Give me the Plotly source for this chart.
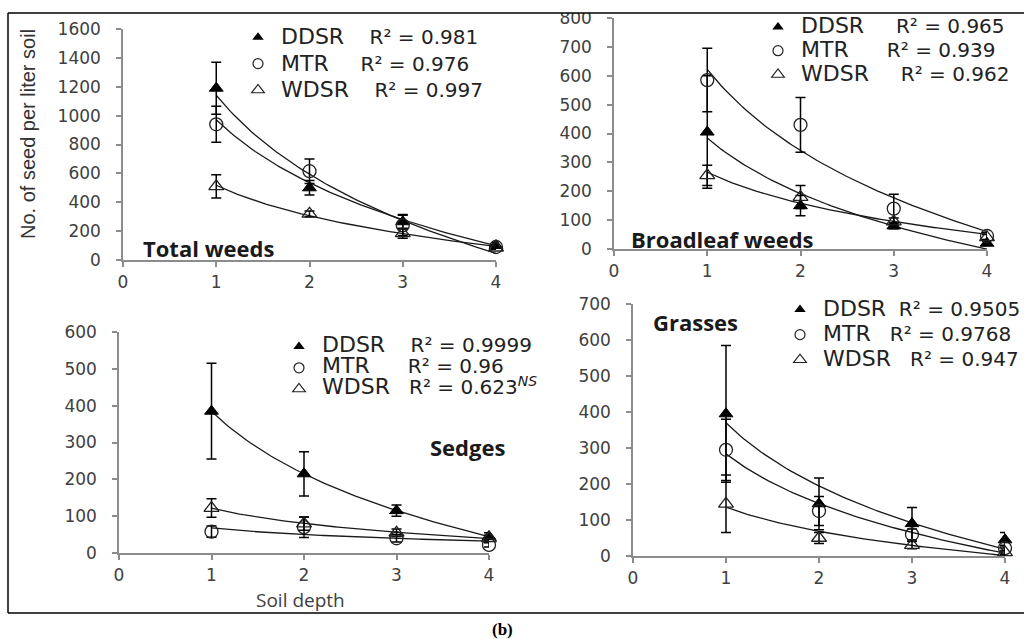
import numpy as np
import plotly.graph_objects as go

W, H = 1024, 639

# ---------------- data ----------------
depth = [1, 2, 3, 4]
series_names = ["DDSR", "MTR", "WDSR"]

# Total weeds
tw_ddsr = [1190, 500, 265, 100]
tw_ddsr_err = [180, 50, 50, 20]
tw_mtr = [940, 615, 240, 90]
tw_mtr_err = [125, 85, 70, 15]
tw_wdsr = [510, 320, 185, 85]
tw_wdsr_err = [80, 20, 35, 10]
tw_r2 = ["0.981", "0.976", "0.997"]

# Broadleaf weeds
bl_ddsr = [405, 150, 80, 20]
bl_ddsr_err = [195, 35, 10, 8]
bl_mtr = [585, 430, 140, 45]
bl_mtr_err = [110, 95, 50, 12]
bl_wdsr = [255, 180, 95, 40]
bl_wdsr_err = [35, 40, 12, 10]
bl_r2 = ["0.965", "0.939", "0.962"]

# Sedges
se_ddsr = [385, 215, 115, 45]
se_ddsr_err = [130, 60, 15, 10]
se_mtr = [58, 70, 40, 22]
se_mtr_err = [15, 28, 10, 6]
se_wdsr = [122, 80, 55, 40]
se_wdsr_err = [25, 18, 10, 8]
se_r2 = ["0.9999", "0.96", "0.623<sup><i>NS</i></sup>"]

# Grasses
gr_ddsr = [395, 145, 90, 45]
gr_ddsr_err = [190, 72, 45, 20]
gr_mtr = [295, 125, 60, 22]
gr_mtr_err = [85, 40, 15, 8]
gr_wdsr = [145, 50, 30, 10]
gr_wdsr_err = [80, 15, 10, 5]
gr_r2 = ["0.9505", "0.9768", "0.947"]

x_ticks = [0, 1, 2, 3, 4]

# ---------------- helpers ----------------
def px(x):
    return x / W

def py(y):
    return 1 - y / H

marker_styles = {
    "DDSR": dict(symbol="triangle-up", color="black", size=12, line=dict(color="black", width=1)),
    "MTR": dict(symbol="circle-open", color="#222222", size=13, line=dict(color="#222222", width=1.3)),
    "WDSR": dict(symbol="triangle-up-open", color="#222222", size=13, line=dict(color="#222222", width=1.3)),
}
legend_markers = {
    "DDSR": dict(symbol="triangle-up", color="black", size=10),
    "MTR": dict(symbol="circle-open", color="#222222", size=10, line=dict(width=1.2)),
    "WDSR": dict(symbol="triangle-up-open", color="#222222", size=11, line=dict(width=1.2)),
}

panels = [
    dict(key="", vals=[tw_ddsr, tw_mtr, tw_wdsr], errs=[tw_ddsr_err, tw_mtr_err, tw_wdsr_err],
         r2=tw_r2, legend="legend", gaps=[4, 5, 4]),
    dict(key="2", vals=[bl_ddsr, bl_mtr, bl_wdsr], errs=[bl_ddsr_err, bl_mtr_err, bl_wdsr_err],
         r2=bl_r2, legend="legend2", gaps=[5, 6, 5]),
    dict(key="3", vals=[se_ddsr, se_mtr, se_wdsr], errs=[se_ddsr_err, se_mtr_err, se_wdsr_err],
         r2=se_r2, legend="legend3", gaps=[4, 6, 3]),
    dict(key="4", vals=[gr_ddsr, gr_mtr, gr_wdsr], errs=[gr_ddsr_err, gr_mtr_err, gr_wdsr_err],
         r2=gr_r2, legend="legend4", gaps=[2, 3, 3]),
]

fig = go.Figure()
xfit = np.linspace(1, 4, 80)
lnx = np.log(np.array(depth, dtype=float))

for p in panels:
    xa, ya = "x" + p["key"], "y" + p["key"]
    # logarithmic trendlines (least-squares fit to the data)
    for vals in p["vals"]:
        a, b = np.polyfit(lnx, np.array(vals, dtype=float), 1)
        fig.add_trace(go.Scatter(x=xfit, y=a * np.log(xfit) + b, mode="lines",
                                 line=dict(color="#1a1a1a", width=1.3),
                                 xaxis=xa, yaxis=ya, showlegend=False, hoverinfo="skip"))
    # points with error bars
    for name, vals, err in zip(series_names, p["vals"], p["errs"]):
        fig.add_trace(go.Scatter(x=depth, y=vals, mode="markers", marker=marker_styles[name],
                                 error_y=dict(type="data", array=err, color="black", thickness=1.5, width=5),
                                 xaxis=xa, yaxis=ya, showlegend=False, cliponaxis=False))
    # legend entries
    for name, r2, g in zip(series_names, p["r2"], p["gaps"]):
        label = ("<span style='font-size:22px'>" + name + "</span>"
                 + "<span style='font-size:20px'>" + "\u00a0" * g + "R² = " + r2 + "</span>")
        fig.add_trace(go.Scatter(x=[None], y=[None], mode="markers", marker=legend_markers[name],
                                 name=label, legend=p["legend"], xaxis=xa, yaxis=ya, showlegend=True))

tickfont = dict(family="DejaVu Sans", size=17, color="#404040")
axis_common = dict(showline=True, linecolor="#8c8c8c", linewidth=1.5, ticks="outside",
                   tickcolor="#8c8c8c", ticklen=5, tickwidth=1.5, showgrid=False,
                   zeroline=False, tickfont=tickfont, fixedrange=True)

def xaxis(d0, d1, anchor):
    return dict(axis_common, domain=[px(d0), px(d1)], range=[0, 4], tickvals=x_ticks,
                anchor=anchor, ticklabelstandoff=1)

def yaxis(d0, d1, top, step, anchor):
    return dict(axis_common, domain=[py(d0), py(d1)], range=[0, top], dtick=step,
                anchor=anchor, ticklabelstandoff=12)

legend_common = dict(bgcolor="rgba(0,0,0,0)", itemwidth=36, xanchor="left", yanchor="top",
                     font=dict(family="DejaVu Sans", color="#222222"), itemclick=False,
                     itemdoubleclick=False, tracegroupgap=0)

label_font = dict(family="Open Sans", size=22, color="#1a1a1a")

def ann(text, x, y, font, **kw):
    d = dict(text=text, x=px(x), y=py(y), xref="paper", yref="paper", showarrow=False,
             xanchor="center", yanchor="middle", font=font)
    d.update(kw)
    return d

fig.update_layout(
    width=W, height=H, margin=dict(l=0, r=0, t=0, b=0, autoexpand=False),
    paper_bgcolor="white", plot_bgcolor="white",
    xaxis=xaxis(123, 496, "y"), yaxis=yaxis(260, 29, 1600, 200, "x"),
    xaxis2=xaxis(614, 987, "y2"), yaxis2=yaxis(249, 18, 800, 100, "x2"),
    xaxis3=xaxis(119, 489, "y3"), yaxis3=yaxis(553, 332, 600, 100, "x3"),
    xaxis4=xaxis(633, 1005, "y4"), yaxis4=yaxis(556, 304, 700, 100, "x4"),
    legend=dict(legend_common, x=px(235), y=py(19), font=dict(legend_common["font"], size=18)),
    legend2=dict(legend_common, x=px(755), y=py(10), font=dict(legend_common["font"], size=16)),
    legend3=dict(legend_common, x=px(276), y=py(331), font=dict(legend_common["font"], size=14)),
    legend4=dict(legend_common, x=px(777), y=py(292), font=dict(legend_common["font"], size=17)),
    annotations=[
        ann("No. of seed per liter soil", 28, 134,
            dict(family="Liberation Sans", size=20, color="#333333"), textangle=-90),
        ann("<b>Total weeds</b>", 208, 248, label_font),
        ann("<b>Broadleaf weeds</b>", 722, 239, label_font),
        ann("<b>Sedges</b>", 467, 447, label_font),
        ann("<b>Grasses</b>", 695, 322, label_font),
        ann("Soil depth", 300, 600, dict(family="Open Sans", size=19, color="#404040")),
        ann("<b>(b)</b>", 502, 629, dict(family="Liberation Serif", size=17, color="black")),
    ],
    shapes=[
        dict(type="rect", xref="paper", yref="paper", x0=0, x1=1, y0=py(13), y1=1,
             fillcolor="white", line=dict(width=0), layer="above"),
        dict(type="line", xref="paper", yref="paper", x0=px(8), x1=1, y0=py(13), y1=py(13),
             line=dict(color="black", width=1.5), layer="above"),
        dict(type="line", xref="paper", yref="paper", x0=px(8), x1=px(8), y0=py(13), y1=py(613),
             line=dict(color="black", width=1.5), layer="above"),
        dict(type="line", xref="paper", yref="paper", x0=px(8), x1=1, y0=py(613), y1=py(613),
             line=dict(color="black", width=1.5), layer="above"),
    ],
)

fig.write_html("out.html", config={"displayModeBar": False},
               post_script="document.body.style.margin='0';document.body.style.overflow='hidden';")
